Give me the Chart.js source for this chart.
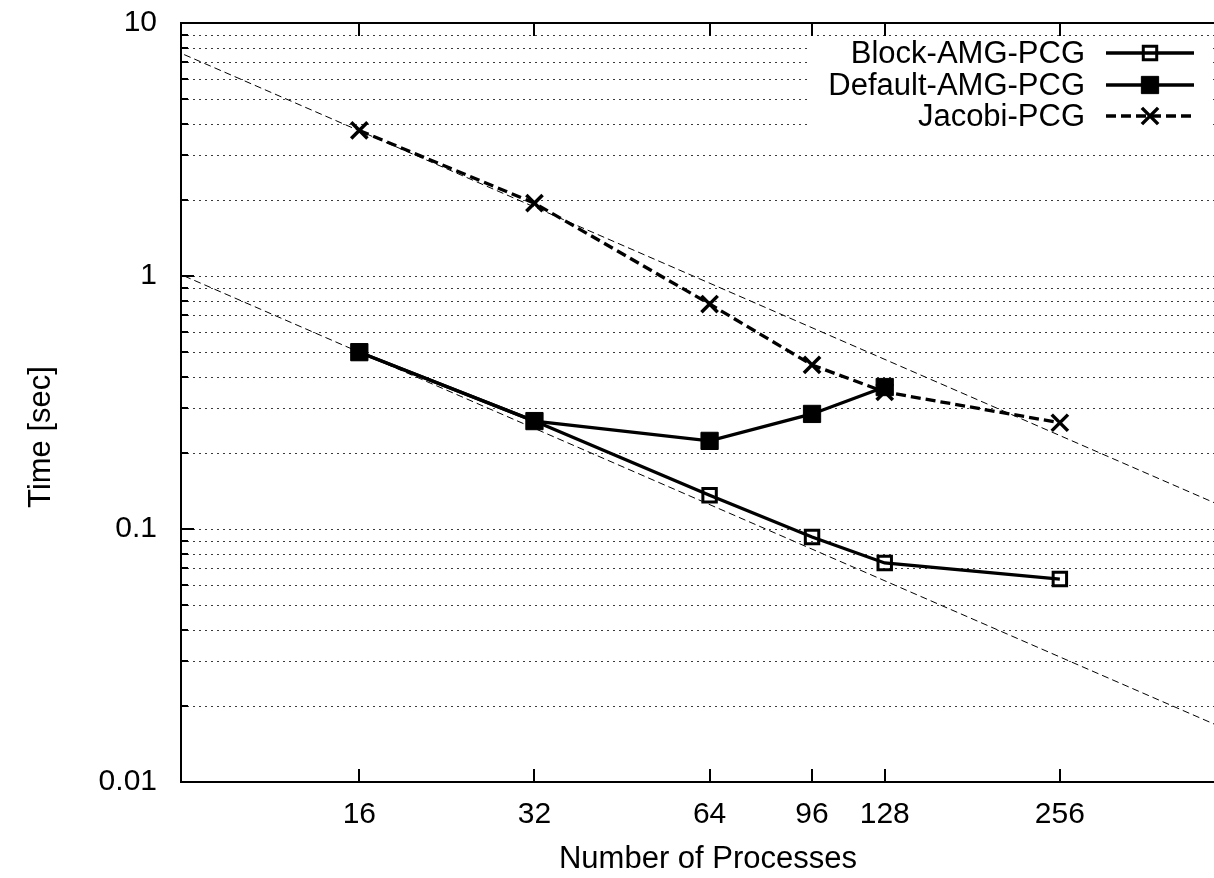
<!DOCTYPE html>
<html>
<head>
<meta charset="utf-8">
<title>Solver timings</title>
<script src="https://cdn.jsdelivr.net/npm/chart.js@4.4.0/dist/chart.umd.min.js"></script>
<style>
  html, body { margin: 0; padding: 0; background: #fff; overflow: hidden; }
  #wrap { position: relative; width: 1250px; height: 878px; }
</style>
</head>
<body>
<div id="wrap"><canvas id="c" width="1250" height="878"></canvas></div>
<script>
// Measured solve time [sec] per process count
const processes     = [16, 32, 64, 96, 128, 256];
const blockAmgPcg   = [0.50, 0.267, 0.136, 0.093, 0.0734, 0.0634];
const defaultAmgPcg = [0.50, 0.267, 0.223, 0.285, 0.364, null];
const jacobiPcg     = [3.76, 1.94, 0.775, 0.445, 0.348, 0.263];

// Ideal-scaling guide lines (end points at 8 and 512 processes)
const idealX      = [8, 512];
const idealJacobi = [7.5, 0.117];
const idealAmg    = [1.0, 0.0156];

// Axis ticks
const xTicks      = [16, 32, 64, 96, 128, 256];
const yMajorTicks = [0.01, 0.1, 1, 10];

const seriesNames = ['Block-AMG-PCG', 'Default-AMG-PCG', 'Jacobi-PCG'];

const FONT = '"Liberation Sans", Arial, Helvetica, sans-serif';
const TICK_SIZE = 30;
const TEXT_SIZE = 31;

Chart.defaults.font.family = FONT;
Chart.defaults.font.size = TICK_SIZE;
Chart.defaults.color = '#000';

const pts = (xs, ys) => xs.map((x, i) => ({ x: x, y: ys[i] })).filter(p => p.y !== null);

const LINE_W = 3.3;
const styles = {
  block:  { pointStyle: 'rect', radius: 9.5, borderWidth: 3, backgroundColor: 'rgba(0,0,0,0)', borderColor: '#000' },
  deflt:  { pointStyle: 'rect', radius: 12.2, borderWidth: 1, backgroundColor: '#000', borderColor: '#000' },
  jacobi: { pointStyle: 'crossRot', radius: 11.5, borderWidth: 3.5, backgroundColor: '#000', borderColor: '#000' }
};
const jacobiDash = [10, 5];

function seriesDataset(label, data, st, dash, order) {
  return {
    label: label,
    data: pts(processes, data),
    borderColor: '#000',
    borderWidth: LINE_W,
    borderDash: dash,
    pointStyle: st.pointStyle,
    pointRadius: st.radius,
    pointHoverRadius: st.radius,
    pointBorderWidth: st.borderWidth,
    pointBackgroundColor: st.backgroundColor,
    pointBorderColor: st.borderColor,
    fill: false,
    tension: 0,
    order: order
  };
}

function guideDataset(data) {
  return {
    label: '',
    data: pts(idealX, data),
    borderColor: '#000',
    borderWidth: 1,
    borderDash: [7, 4],
    pointRadius: 0,
    fill: false,
    order: 10
  };
}

// Dotted horizontal grid at every log sub-division inside the plot
function yGridValues() {
  const vals = [];
  [0.01, 0.1, 1].forEach(d => {
    for (let m = 1; m <= 9; m++) {
      const v = +(d * m).toPrecision(3);
      if (v > 0.01 && v < 10) vals.push(v);
    }
  });
  return vals;
}

const legendBox = { left: 809, right: 1209, top: 39, bottom: 133 };
const legendRows = [53, 85, 116];
const legendTextRight = 1085;
const legendSample = { x0: 1106, x1: 1194 };

const framePlugin = {
  id: 'gnuframe',
  beforeDatasetsDraw(chart) {
    const { ctx, chartArea: a, scales: { y } } = chart;
    ctx.save();
    ctx.beginPath();
    ctx.rect(a.left, a.top, a.right - a.left, a.bottom - a.top);
    ctx.clip();
    ctx.strokeStyle = '#3a3a3a';
    ctx.lineWidth = 1;
    ctx.setLineDash([2, 4]);
    yGridValues().forEach(v => {
      const py = Math.round(y.getPixelForValue(v)) + 0.5;
      ctx.beginPath();
      ctx.moveTo(a.left, py);
      ctx.lineTo(a.right, py);
      ctx.stroke();
    });
    ctx.setLineDash([]);
    // opaque key background
    ctx.fillStyle = '#fff';
    ctx.fillRect(legendBox.left, legendBox.top, legendBox.right - legendBox.left, legendBox.bottom - legendBox.top);
    ctx.restore();
  },
  afterDatasetsDraw(chart) {
    const { ctx, chartArea: a, scales: { x, y } } = chart;
    ctx.save();
    ctx.strokeStyle = '#000';
    ctx.lineWidth = 2;
    // plot border: left, bottom, top
    ctx.beginPath();
    ctx.moveTo(a.right, a.top); ctx.lineTo(a.left, a.top);
    ctx.lineTo(a.left, a.bottom); ctx.lineTo(a.right, a.bottom);
    ctx.stroke();
    // x ticks, pointing inward on bottom and top
    xTicks.forEach(v => {
      const px = Math.round(x.getPixelForValue(v));
      ctx.beginPath();
      ctx.moveTo(px, a.bottom); ctx.lineTo(px, a.bottom - 13);
      ctx.moveTo(px, a.top); ctx.lineTo(px, a.top + 13);
      ctx.stroke();
    });
    // y ticks: long at decades, short at sub-divisions
    yMajorTicks.forEach(v => {
      const py = Math.round(y.getPixelForValue(v));
      ctx.beginPath(); ctx.moveTo(a.left, py); ctx.lineTo(a.left + 13, py); ctx.stroke();
    });
    yGridValues().forEach(v => {
      const py = Math.round(y.getPixelForValue(v));
      ctx.beginPath(); ctx.moveTo(a.left, py); ctx.lineTo(a.left + 7, py); ctx.stroke();
    });

    // key
    const entries = [
      { name: seriesNames[0], st: styles.block, dash: [] },
      { name: seriesNames[1], st: styles.deflt, dash: [] },
      { name: seriesNames[2], st: styles.jacobi, dash: jacobiDash }
    ];
    ctx.font = TEXT_SIZE + 'px ' + FONT;
    ctx.fillStyle = '#000';
    ctx.textAlign = 'right';
    ctx.textBaseline = 'middle';
    entries.forEach((e, i) => {
      const ry = legendRows[i];
      ctx.fillText(e.name, legendTextRight, ry + 1);
      ctx.lineWidth = LINE_W;
      ctx.setLineDash(e.dash);
      ctx.beginPath();
      ctx.moveTo(legendSample.x0, ry); ctx.lineTo(legendSample.x1, ry);
      ctx.stroke();
      ctx.setLineDash([]);
      ctx.lineWidth = e.st.borderWidth;
      ctx.strokeStyle = e.st.borderColor;
      ctx.fillStyle = e.st.backgroundColor;
      Chart.helpers.drawPoint(ctx, {
        pointStyle: e.st.pointStyle, radius: e.st.radius, rotation: 0, borderWidth: e.st.borderWidth
      }, (legendSample.x0 + legendSample.x1) / 2, ry);
      ctx.fillStyle = '#000';
      ctx.strokeStyle = '#000';
    });

    // y axis title
    ctx.save();
    ctx.translate(41, 437);
    ctx.rotate(-Math.PI / 2);
    ctx.textAlign = 'center';
    ctx.textBaseline = 'middle';
    ctx.fillText('Time [sec]', 0, 0);
    ctx.restore();
    ctx.restore();
  }
};

new Chart(document.getElementById('c'), {
  type: 'line',
  data: {
    datasets: [
      guideDataset(idealJacobi),
      guideDataset(idealAmg),
      seriesDataset(seriesNames[0], blockAmgPcg, styles.block, [], 3),
      seriesDataset(seriesNames[2], jacobiPcg, styles.jacobi, jacobiDash, 2),
      seriesDataset(seriesNames[1], defaultAmgPcg, styles.deflt, [], 1)
    ]
  },
  options: {
    responsive: false,
    animation: false,
    devicePixelRatio: 1,
    layout: { padding: { top: 23, left: 0, right: 5, bottom: 0 } },
    plugins: { legend: { display: false }, tooltip: { enabled: false } },
    events: [],
    scales: {
      x: {
        type: 'logarithmic',
        min: 7.9,
        max: 512,
        grid: { display: false, drawTicks: false },
        border: { display: false },
        afterBuildTicks: s => { s.ticks = xTicks.map(v => ({ value: v })); },
        afterFit: s => { s.height = 96; s.paddingLeft = 0; s.paddingRight = 0; },
        ticks: {
          autoSkip: false,
          maxRotation: 0,
          padding: 15,
          callback: v => String(v)
        },
        title: {
          display: true,
          text: 'Number of Processes',
          font: { size: TEXT_SIZE },
          padding: { top: 0, bottom: 0 }
        }
      },
      y: {
        type: 'logarithmic',
        min: 0.01,
        max: 10,
        grid: { display: false, drawTicks: false },
        border: { display: false },
        afterBuildTicks: s => { s.ticks = yMajorTicks.map(v => ({ value: v })); },
        afterFit: s => { s.width = 181; s.paddingTop = 0; s.paddingBottom = 0; },
        ticks: {
          autoSkip: false,
          padding: 24,
          callback: v => String(v)
        }
      }
    }
  },
  plugins: [framePlugin]
});
</script>
</body>
</html>
